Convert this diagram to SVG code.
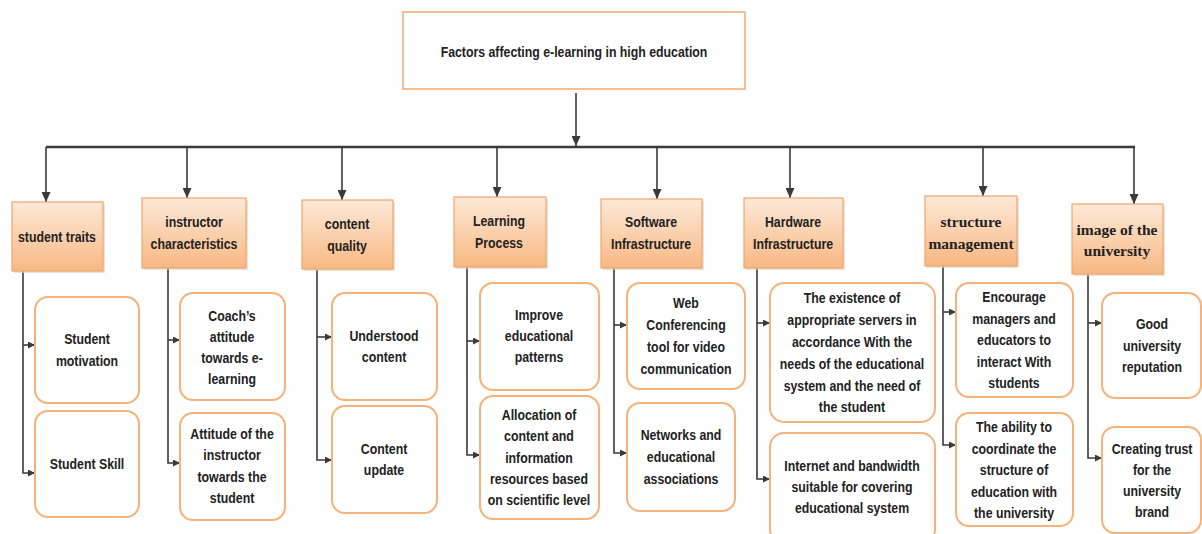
<svg xmlns="http://www.w3.org/2000/svg" width="1202" height="534" viewBox="0 0 1202 534">
<style>
.title{fill:#fff;stroke:#f4a96e;stroke-width:1.5}
.hdr{fill:url(#hg);stroke:#f0a56a;stroke-width:1.2}
.sh{fill:#d9d0c8;opacity:0.6}
.leaf{fill:#fff;stroke:#f5b27a;stroke-width:2}
.t{font-family:"Liberation Sans",Arial,sans-serif;font-weight:bold;font-size:14.5px;fill:#222;text-anchor:middle;dominant-baseline:central;transform-box:fill-box;transform-origin:center;transform:scaleX(0.85)}
.s{font-family:"Liberation Serif","Times New Roman",serif;font-weight:bold;font-size:15.5px;fill:#222;text-anchor:middle;dominant-baseline:central}
.c{fill:none;stroke:#3a3a3a;stroke-width:1.6}
.bus{fill:none;stroke:#3a3a3a;stroke-width:2.4}
</style>
<defs>
<linearGradient id="hg" x1="0" y1="0" x2="0" y2="1">
<stop offset="0" stop-color="#fde9d8"/>
<stop offset="1" stop-color="#f8b883"/>
</linearGradient>
<marker id="a" markerUnits="userSpaceOnUse" markerWidth="10" markerHeight="9" refX="10" refY="4.5" orient="auto"><path d="M0,0 L10,4.5 L0,9 z" fill="#3a3a3a"/></marker>
<marker id="b" markerUnits="userSpaceOnUse" markerWidth="7" markerHeight="7" refX="7" refY="3.5" orient="auto"><path d="M0,0 L7,3.5 L0,7 z" fill="#3a3a3a"/></marker>
</defs>
<rect width="1202" height="534" fill="#fefefe"/>

<g id="connectors">
<path class="c" d="M576,93 V146" marker-end="url(#a)"/>
<path class="bus" d="M46,147 H1135"/>
<path class="c" d="M46,147 V202" marker-end="url(#a)"/>
<path class="c" d="M187,147 V198" marker-end="url(#a)"/>
<path class="c" d="M342,147 V200" marker-end="url(#a)"/>
<path class="c" d="M497,147 V197" marker-end="url(#a)"/>
<path class="c" d="M657,147 V199" marker-end="url(#a)"/>
<path class="c" d="M790,147 V198" marker-end="url(#a)"/>
<path class="c" d="M983,147 V196" marker-end="url(#a)"/>
<path class="c" d="M1134,147 V204" marker-end="url(#a)"/>
<path class="c" d="M23,271 V473 H35" marker-end="url(#b)"/>
<path class="c" d="M23,345 H35" marker-end="url(#b)"/>
<path class="c" d="M168,268 V463 H180" marker-end="url(#b)"/>
<path class="c" d="M168,340 H180" marker-end="url(#b)"/>
<path class="c" d="M317,269 V460 H332" marker-end="url(#b)"/>
<path class="c" d="M317,337 H332" marker-end="url(#b)"/>
<path class="c" d="M467,267 V455 H480" marker-end="url(#b)"/>
<path class="c" d="M467,341 H480" marker-end="url(#b)"/>
<path class="c" d="M614,268 V453 H627" marker-end="url(#b)"/>
<path class="c" d="M614,325 H627" marker-end="url(#b)"/>
<path class="c" d="M757,268 V479 H770" marker-end="url(#b)"/>
<path class="c" d="M757,323 H770" marker-end="url(#b)"/>
<path class="c" d="M943,266 V445 H956" marker-end="url(#b)"/>
<path class="c" d="M943,312 H956" marker-end="url(#b)"/>
<path class="c" d="M1088,274 V458 H1102" marker-end="url(#b)"/>
<path class="c" d="M1088,323 H1102" marker-end="url(#b)"/>
</g>

<g id="root">
<rect class="title" x="403" y="12" width="342" height="77"/>
<text class="t" x="574" y="52">Factors affecting e-learning in high education</text>
</g>

<g id="h1"><rect class="sh" x="14" y="204" width="91" height="69"/><rect class="hdr" x="12" y="202" width="91" height="69"/><text class="t" x="57" y="237">student traits</text></g>
<g id="h2"><rect class="sh" x="144" y="200" width="104" height="70"/><rect class="hdr" x="142" y="198" width="104" height="70"/><text class="t" x="194" y="222">instructor</text><text class="t" x="194" y="244">characteristics</text></g>
<g id="h3"><rect class="sh" x="304" y="202" width="91" height="69"/><rect class="hdr" x="302" y="200" width="91" height="69"/><text class="t" x="347" y="224">content</text><text class="t" x="347" y="246">quality</text></g>
<g id="h4"><rect class="sh" x="456" y="199" width="92" height="70"/><rect class="hdr" x="454" y="197" width="92" height="70"/><text class="t" x="499" y="221">Learning</text><text class="t" x="499" y="243">Process</text></g>
<g id="h5"><rect class="sh" x="603" y="201" width="101" height="69"/><rect class="hdr" x="601" y="199" width="101" height="69"/><text class="t" x="651" y="222">Software</text><text class="t" x="651" y="244">Infrastructure</text></g>
<g id="h6"><rect class="sh" x="746" y="200" width="99" height="70"/><rect class="hdr" x="744" y="198" width="99" height="70"/><text class="t" x="793" y="222">Hardware</text><text class="t" x="793" y="244">Infrastructure</text></g>
<g id="h7"><rect class="sh" x="927" y="198" width="92" height="70"/><rect class="hdr" x="925" y="196" width="92" height="70"/><text class="s" x="971" y="221">structure</text><text class="s" x="971" y="243">management</text></g>
<g id="h8"><rect class="sh" x="1074" y="206" width="91" height="70"/><rect class="hdr" x="1072" y="204" width="91" height="70"/><text class="s" x="1117" y="229">image of the</text><text class="s" x="1117" y="250">university</text></g>

<g id="l1a"><rect class="leaf" x="35" y="297" width="104" height="106" rx="13"/><text class="t" x="87" y="339">Student</text><text class="t" x="87" y="361">motivation</text></g>
<g id="l1b"><rect class="leaf" x="35" y="411" width="104" height="106" rx="13"/><text class="t" x="87" y="464">Student Skill</text></g>
<g id="l2a"><rect class="leaf" x="180" y="293" width="105" height="107" rx="13"/><text class="t" x="232" y="316">Coach’s</text><text class="t" x="232" y="337">attitude</text><text class="t" x="232" y="358">towards e-</text><text class="t" x="232" y="379">learning</text></g>
<g id="l2b"><rect class="leaf" x="180" y="413" width="105" height="107" rx="13"/><text class="t" x="232" y="434">Attitude of the</text><text class="t" x="232" y="455">instructor</text><text class="t" x="232" y="477">towards the</text><text class="t" x="232" y="498">student</text></g>
<g id="l3a"><rect class="leaf" x="332" y="293" width="105" height="107" rx="13"/><text class="t" x="384" y="336">Understood</text><text class="t" x="384" y="357">content</text></g>
<g id="l3b"><rect class="leaf" x="332" y="406" width="105" height="107" rx="13"/><text class="t" x="384" y="449">Content</text><text class="t" x="384" y="470">update</text></g>
<g id="l4a"><rect class="leaf" x="480" y="283" width="119" height="107" rx="13"/><text class="t" x="539" y="315">Improve</text><text class="t" x="539" y="336">educational</text><text class="t" x="539" y="357">patterns</text></g>
<g id="l4b"><rect class="leaf" x="480" y="396" width="119" height="123" rx="13"/><text class="t" x="539" y="415">Allocation of</text><text class="t" x="539" y="436">content and</text><text class="t" x="539" y="458">information</text><text class="t" x="539" y="479">resources based</text><text class="t" x="539" y="500">on scientific level</text></g>
<g id="l5a"><rect class="leaf" x="627" y="283" width="118" height="106" rx="13"/><text class="t" x="686" y="303">Web</text><text class="t" x="686" y="325">Conferencing</text><text class="t" x="686" y="347">tool for video</text><text class="t" x="686" y="369">communication</text></g>
<g id="l5b"><rect class="leaf" x="627" y="403" width="108" height="108" rx="13"/><text class="t" x="681" y="435">Networks and</text><text class="t" x="681" y="457">educational</text><text class="t" x="681" y="479">associations</text></g>
<g id="l6a"><rect class="leaf" x="770" y="283" width="165" height="139" rx="14"/><text class="t" x="852" y="298">The existence of</text><text class="t" x="852" y="320">appropriate servers in</text><text class="t" x="852" y="342">accordance With the</text><text class="t" x="852" y="364">needs of the educational</text><text class="t" x="852" y="386">system and the need of</text><text class="t" x="852" y="407">the student</text></g>
<g id="l6b"><rect class="leaf" x="770" y="433" width="165" height="110" rx="14"/><text class="t" x="852" y="466">Internet and bandwidth</text><text class="t" x="852" y="487">suitable for covering</text><text class="t" x="852" y="508">educational system</text></g>
<g id="l7a"><rect class="leaf" x="956" y="283" width="117" height="114" rx="13"/><text class="t" x="1014" y="297">Encourage</text><text class="t" x="1014" y="319">managers and</text><text class="t" x="1014" y="340">educators to</text><text class="t" x="1014" y="362">interact With</text><text class="t" x="1014" y="383">students</text></g>
<g id="l7b"><rect class="leaf" x="956" y="413" width="117" height="113" rx="13"/><text class="t" x="1014" y="427">The ability to</text><text class="t" x="1014" y="449">coordinate the</text><text class="t" x="1014" y="470">structure of</text><text class="t" x="1014" y="492">education with</text><text class="t" x="1014" y="513">the university</text></g>
<g id="l8a"><rect class="leaf" x="1102" y="293" width="99" height="105" rx="13"/><text class="t" x="1152" y="324">Good</text><text class="t" x="1152" y="346">university</text><text class="t" x="1152" y="367">reputation</text></g>
<g id="l8b"><rect class="leaf" x="1102" y="427" width="99" height="106" rx="13"/><text class="t" x="1152" y="449">Creating trust</text><text class="t" x="1152" y="470">for the</text><text class="t" x="1152" y="491">university</text><text class="t" x="1152" y="512">brand</text></g>
</svg>
